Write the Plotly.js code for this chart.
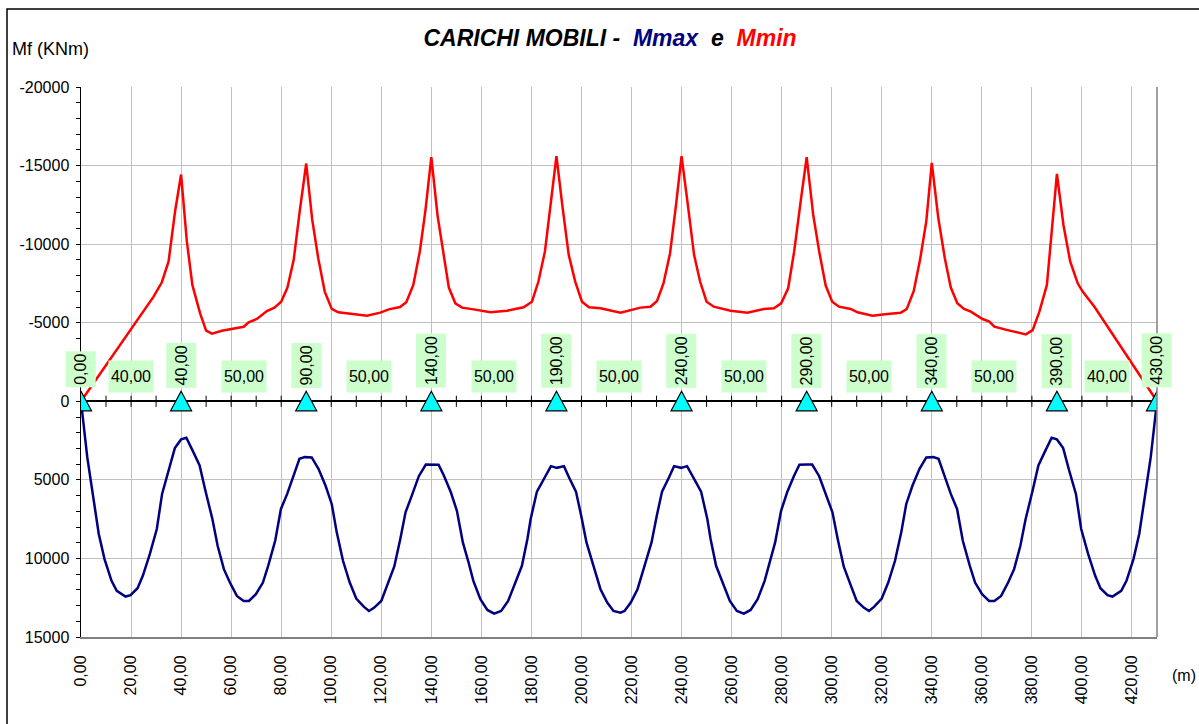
<!DOCTYPE html>
<html><head><meta charset="utf-8">
<script src="https://cdn.plot.ly/plotly-3.0.1.min.js"></script>
<style>html,body{margin:0;padding:0;background:#fff}#chart{width:1199px;height:724px}</style>
</head><body><div id="chart"></div>
<script>
const supports = [0, 40, 90, 140, 190, 240, 290, 340, 390, 430];
const supportLabels = ["0,00","40,00","90,00","140,00","190,00","240,00","290,00","340,00","390,00","430,00"];
const spanMid = [20, 65, 115, 165, 215, 265, 315, 365, 410];
const spanLabels = ["40,00","50,00","50,00","50,00","50,00","50,00","50,00","50,00","40,00"];
const xTickVals = [0,20,40,60,80,100,120,140,160,180,200,220,240,260,280,300,320,340,360,380,400,420];
const xTickText = ["0,00","20,00","40,00","60,00","80,00","100,00","120,00","140,00","160,00","180,00","200,00","220,00","240,00","260,00","280,00","300,00","320,00","340,00","360,00","380,00","400,00","420,00"];
const yTickVals = [-20000,-15000,-10000,-5000,0,5000,10000,15000];
const yTickText = ["-20000","-15000","-10000","-5000","0","5000","10000","15000"];
const zeroTicks = [0,10,20,30,40,50,60,70,80,90,100,110,120,130,140,150,160,170,180,190,200,210,220,230,240,250,260,270,280,290,300,310,320,330,340,350,360,370,380,390,400,410,420,430];

const mminX = [0,29,32.3,35,37.6,40,42.3,44.5,47.6,50,52.3,56.3,65,67,70.3,74.3,77.3,80,82.5,85,87.4,90,92.4,94.8,97.4,100.2,102.8,108.3,114.3,119.6,123,127.5,130,132.8,135.4,137.6,140,142.5,145,147,149.6,152.3,156.9,163.6,170.3,176.9,180.2,182.8,185.4,187.6,190,192.4,194.9,197.5,200.2,203,207.6,215.6,220.3,223.6,227.6,230.2,232.8,235.4,237.8,240,242.5,245,247.4,250,252.9,259.6,266.3,272.9,276.9,279.8,282.6,285,287.6,290,292.6,295,297.6,300.2,302.9,307.6,310.3,316.3,322.3,327.6,330,332.8,335.3,337.8,340,342.6,345.2,347.6,350.2,352.9,355.6,360.3,363,365,370.3,374.3,377.6,380.3,383,386,388.3,390,392.6,395.3,398.3,400.3,405,430];
const mminY = [0,-6660,-7575,-8895,-12090,-14430,-10170,-7405,-5600,-4490,-4300,-4490,-4745,-5020,-5235,-5745,-5960,-6340,-7235,-9000,-12090,-15130,-11555,-9110,-6980,-5875,-5660,-5555,-5450,-5640,-5850,-6000,-6300,-7405,-9535,-12090,-15535,-11800,-9200,-7235,-6235,-5960,-5850,-5660,-5765,-5980,-6340,-7620,-9535,-12510,-15600,-12400,-9320,-7620,-6340,-5980,-5915,-5640,-5850,-5960,-6020,-6385,-7510,-9425,-12510,-15600,-12510,-9320,-7620,-6340,-6020,-5765,-5640,-5875,-5915,-6235,-7190,-9535,-12725,-15535,-11875,-9535,-7365,-6340,-6020,-5875,-5660,-5450,-5555,-5640,-5875,-7020,-9000,-11450,-15170,-11660,-9110,-7235,-6235,-5875,-5700,-5235,-5065,-4745,-4530,-4380,-4255,-4530,-5700,-7405,-11450,-14470,-11235,-8895,-7510,-6980,-6020,0];

const mmaxX = [0,2.5,7.1,9.4,12.2,14.3,17.8,19.8,22.6,24.7,27.5,30.3,32.4,35.1,37.5,40,42.1,44.9,47.4,49.7,52.5,54.6,57.1,59.5,62.3,65,67.1,69.9,72.7,74.8,77.6,79.9,82.4,85.2,87.3,89.4,92.2,94.9,97.7,100.2,102.2,104.7,107.4,110,113,115.1,117.2,120,122.3,125.2,127.6,129.7,132.2,135,137.8,140.1,142.9,145,147.8,150.2,152.6,154.7,156.8,159.6,162.4,165.1,167.9,170.7,174.2,176.2,178.4,179.7,182.2,184.6,187.8,190.2,193,195,197.8,199.9,202,204.8,207.6,210.3,212.8,215.6,217.2,219.7,222.4,225.2,228,230.1,232.2,235,237,239.8,242.2,245.4,247.8,250.3,251.6,253.8,255.8,259.3,262.1,264.9,267.6,270.4,273.2,275.3,277.4,279.8,282.2,285,287.1,289.9,292.2,295,297.8,300.3,302.4,304.8,307.7,310,312.8,314.9,317,320,322.6,325.3,327.8,329.8,332.3,335.1,337.8,340.6,342.7,344.8,347.6,350.1,352.4,355.2,357.3,360.1,362.9,365,367.7,370.5,372.9,375.4,377.5,380.3,382.6,385.1,387.9,390,392.5,394.9,397.6,399.7,402.5,405.3,407.4,410.2,412.2,415.7,417.8,420.6,422.9,427.5,430];
const mmaxY = [0,3554,8448,10044,11427,12066,12428,12342,11896,11108,9725,8129,5895,4405,2979,2426,2320,3234,4086,5682,7490,9193,10683,11534,12385,12704,12704,12279,11534,10470,8874,6852,5895,4618,3660,3554,3575,4299,5363,6533,8342,10150,11534,12555,13066,13343,13130,12704,11747,10512,8767,7065,6001,4767,4022,4022,4043,4724,5788,6959,8980,10150,11427,12598,13279,13513,13343,12704,11321,10470,8767,7490,5746,5043,4128,4235,4128,4830,5746,7278,8980,10470,11960,12810,13343,13449,13343,12810,11960,10470,8980,7278,5746,4830,4128,4235,4128,5043,5746,7490,8767,10470,11321,12704,13343,13513,13279,12598,11427,10150,8980,6959,5788,4724,4043,4022,4022,4767,6001,7065,8767,10512,11747,12704,13130,13343,13066,12555,11534,10150,8342,6533,5363,4299,3575,3554,3660,4618,5895,6852,8874,10470,11534,12279,12704,12704,12385,11534,10683,9193,7490,5682,4086,3234,2320,2426,2979,4405,5895,8129,9725,11108,11896,12342,12428,12066,11427,10044,8448,3554,0];

const FONT = '"Liberation Sans", Arial, sans-serif';

const traces = [
  {x: zeroTicks, y: zeroTicks.map(() => 0), type: 'scatter', mode: 'markers', hoverinfo: 'skip',
   marker: {symbol: 'line-ns', size: 8, color: '#000', line: {color: '#000', width: 1}}},
  {x: mminX, y: mminY, type: 'scatter', mode: 'lines', name: 'Mmin',
   line: {color: '#FF0000', width: 2.5}},
  {x: mmaxX, y: mmaxY, type: 'scatter', mode: 'lines', name: 'Mmax',
   line: {color: '#000080', width: 2.5}}
];

const shapes = supports.map(s => ({
  type: 'path', xref: 'x', yref: 'y', xsizemode: 'pixel', ysizemode: 'pixel',
  xanchor: s, yanchor: 0, path: 'M-10.5,-9.5 L10.5,-9.5 L0,10 Z',
  fillcolor: '#00FFFF', line: {color: '#000', width: 1.2}, layer: 'above'
}));
shapes.push({type: 'line', xref: 'paper', yref: 'paper', x0: 1, x1: 1, y0: 0, y1: 1,
  line: {color: '#808080', width: 1.5}, layer: 'above'});
shapes.push({type: 'rect', xref: 'paper', yref: 'paper',
  x0: (7 - 81) / 1076, x1: (1300 - 81) / 1076, y0: (637 - 800) / 550, y1: (637 - 9) / 550,
  line: {color: '#000', width: 1.5}, fillcolor: 'rgba(0,0,0,0)', layer: 'below'});

const annotations = [];
supports.forEach((s, i) => annotations.push({
  x: s, y: 0, xref: 'x', yref: 'y', text: supportLabels[i], textangle: -90, showarrow: false,
  xanchor: 'center', yanchor: 'bottom', yshift: 13, bgcolor: '#CCFFCC', borderpad: 2, height: 25,
  font: {family: FONT, size: 16, color: '#000'}
}));
spanMid.forEach((m, i) => annotations.push({
  x: m, y: 0, xref: 'x', yref: 'y', text: spanLabels[i], showarrow: false,
  xanchor: 'center', yanchor: 'bottom', yshift: 8, bgcolor: '#CCFFCC', borderpad: 0, width: 44, height: 31,
  font: {family: FONT, size: 16, color: '#000'}
}));
annotations.push({xref: 'paper', yref: 'paper', x: (10 - 81) / 1076, y: (637 - 49) / 550,
  xanchor: 'left', yanchor: 'middle', text: 'Mf (KNm)', showarrow: false,
  font: {family: FONT, size: 18, color: '#000'}});
annotations.push({xref: 'paper', yref: 'paper', x: (1170 - 81) / 1076, y: (637 - 675) / 550,
  xanchor: 'left', yanchor: 'middle', text: '(m)', showarrow: false,
  font: {family: FONT, size: 16, color: '#000'}});

const layout = {
  width: 1199, height: 724,
  margin: {l: 81, r: 42, t: 87, b: 87},
  paper_bgcolor: '#fff', plot_bgcolor: '#fff',
  showlegend: false,
  title: {
    text: '<b><i>CARICHI MOBILI - &nbsp;<span style="color:#000080">Mmax</span> &nbsp;e&nbsp; <span style="color:#FF0000">Mmin</span></i></b>',
    font: {family: FONT, size: 23, color: '#000'},
    xref: 'container', yref: 'container', x: 610 / 1199, xanchor: 'center', y: 1 - 38 / 724, yanchor: 'middle'
  },
  xaxis: {
    range: [0, 430], tickmode: 'array', tickvals: xTickVals, ticktext: xTickText, tickangle: -90,
    showgrid: true, gridcolor: '#C0C0C0', gridwidth: 1, zeroline: false,
    showline: true, linecolor: '#808080', linewidth: 2,
    ticks: 'outside', ticklen: 10, tickcolor: 'rgba(0,0,0,0)',
    tickfont: {family: FONT, size: 16, color: '#000'}, fixedrange: true
  },
  yaxis: {
    range: [15000, -20000], tickmode: 'array', tickvals: yTickVals, ticktext: yTickText,
    showgrid: true, gridcolor: '#C0C0C0', gridwidth: 1,
    zeroline: true, zerolinecolor: '#000', zerolinewidth: 2,
    showline: true, linecolor: '#000', linewidth: 1.5,
    ticks: 'outside', ticklen: 4, tickcolor: '#000', tickwidth: 1, ticklabelstandoff: 3,
    minor: {tickmode: 'linear', tick0: 0, dtick: 1000, ticks: 'outside', ticklen: 4, tickcolor: '#000', showgrid: false},
    tickfont: {family: FONT, size: 16, color: '#000'}, fixedrange: true
  },
  shapes: shapes,
  annotations: annotations
};

Plotly.newPlot('chart', traces, layout, {displayModeBar: false, staticPlot: true});
</script>
</body></html>
